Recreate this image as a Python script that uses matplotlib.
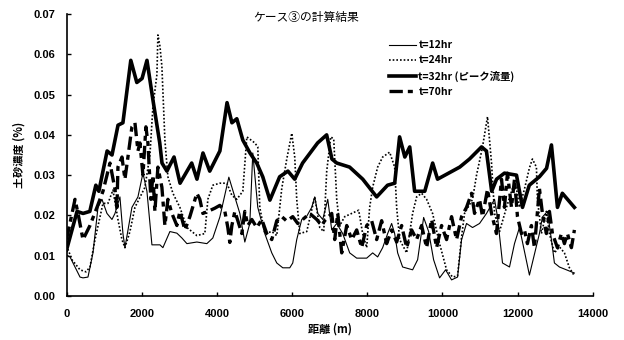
import numpy as np
import matplotlib.pyplot as plt

# データ (距離 m, 土砂濃度 %)
x12 = [0, 93, 359, 438, 571, 704, 837, 943, 1076, 1209, 1289, 1421, 1501, 1554, 1740, 1900, 2033, 2139,
       2219, 2272, 2485, 2564, 2750, 2936, 3069, 3202, 3467, 3733, 3892, 4079, 4318, 4610, 4743, 4876,
       4955, 5088, 5274, 5460, 5593, 5753, 5939, 6018, 6124, 6257, 6390, 6523, 6603, 6683, 6816, 6949,
       7055, 7188, 7347, 7533, 7719, 7985, 8144, 8277, 8410, 8543, 8649, 8729, 8809, 8941, 9207, 9340,
       9500, 9633, 9765, 9924, 10084, 10243, 10402, 10509, 10641, 10801, 10987, 11173, 11386, 11465,
       11598, 11784, 11917, 12049, 12314, 12580, 12660, 12793, 12899, 12979, 13112, 13298, 13511]
y12 = [0.0102, 0.0097, 0.0047, 0.0045, 0.0047, 0.0107, 0.022, 0.024, 0.0205, 0.019, 0.0205, 0.0246, 0.0155,
       0.012, 0.022, 0.0246, 0.0305, 0.026, 0.018, 0.0127, 0.0127, 0.012, 0.016, 0.0156, 0.0144, 0.013,
       0.0134, 0.013, 0.0144, 0.0196, 0.0295, 0.0205, 0.0134, 0.018, 0.0355, 0.022, 0.0155, 0.0107, 0.0082,
       0.007, 0.007, 0.0082, 0.014, 0.019, 0.0198, 0.022, 0.0246, 0.0205, 0.019, 0.024, 0.0164, 0.018,
       0.0155, 0.0107, 0.0094, 0.0094, 0.0107, 0.0097, 0.012, 0.0155, 0.018, 0.0155, 0.0107, 0.0072,
       0.0065, 0.009, 0.0195, 0.016, 0.009, 0.0045, 0.0065, 0.004, 0.0047, 0.014, 0.018, 0.017, 0.018,
       0.0205, 0.024, 0.0196, 0.0082, 0.0072, 0.013, 0.017, 0.0052, 0.0155, 0.0196, 0.021, 0.014, 0.0082,
       0.0072, 0.0065, 0.0057]

x24 = [0, 146, 359, 518, 624, 757, 890, 970, 1103, 1235, 1368, 1475, 1554, 1687, 1820, 1953, 2086, 2219,
       2298, 2405, 2431, 2485, 2537, 2617, 2697, 2830, 3016, 3202, 3467, 3680, 3760, 3892, 4079, 4265,
       4398, 4530, 4690, 4796, 5009, 5088, 5141, 5274, 5460, 5593, 5726, 5859, 5992, 6071, 6124, 6204,
       6390, 6603, 6736, 6842, 6922, 7028, 7108, 7188, 7268, 7401, 7587, 7772, 7878, 7985, 8064, 8144,
       8277, 8410, 8596, 8729, 8782, 8862, 9048, 9207, 9313, 9446, 9579, 9738, 9924, 10110, 10270, 10402,
       10509, 10588, 10801, 10907, 11066, 11199, 11306, 11386, 11518, 11704, 11863, 11969, 12049, 12181,
       12314, 12394, 12500, 12527, 12633, 12766, 12846, 12979, 13112, 13245, 13378, 13511]
y24 = [0.0125, 0.009, 0.0065, 0.006, 0.0072, 0.014, 0.0196, 0.023, 0.023, 0.0263, 0.019, 0.014, 0.012,
       0.016, 0.022, 0.0245, 0.027, 0.035, 0.047, 0.055, 0.0648, 0.062, 0.057, 0.0387, 0.0296, 0.0255,
       0.022, 0.017, 0.015, 0.0155, 0.024, 0.0275, 0.028, 0.028, 0.025, 0.024, 0.026, 0.0395, 0.038,
       0.037, 0.022, 0.0155, 0.016, 0.015, 0.0267, 0.034, 0.0404, 0.0345, 0.024, 0.0155, 0.016, 0.0246,
       0.017, 0.016, 0.031, 0.0395, 0.039, 0.024, 0.0175, 0.0197, 0.0205, 0.0213, 0.0155, 0.012, 0.022,
       0.027, 0.032, 0.0345, 0.0357, 0.032, 0.022, 0.014, 0.0107, 0.0205, 0.0246, 0.0255, 0.024, 0.0205,
       0.013, 0.0065, 0.0047, 0.005, 0.0147, 0.0205, 0.024, 0.030, 0.037, 0.0445, 0.033, 0.0205, 0.016,
       0.022, 0.0267, 0.0267, 0.022, 0.0265, 0.0318, 0.034, 0.032, 0.024, 0.0155, 0.021, 0.0155, 0.0107,
       0.0122, 0.0107, 0.007, 0.005]

x32 = [0, 280, 440, 620, 780, 860, 1080, 1210, 1370, 1500, 1710, 1870, 2010, 2140, 2300, 2480, 2540, 2670,
       2860, 3020, 3330, 3470, 3630, 3810, 4080, 4270, 4400, 4530, 4690, 4880, 5060, 5220, 5410, 5670,
       5890, 6070, 6280, 6520, 6680, 6920, 7060, 7190, 7530, 7880, 8250, 8540, 8730, 8860, 9000, 9130,
       9260, 9530, 9740, 9870, 10460, 10720, 11040, 11170, 11310, 11440, 11650, 11970, 12130, 12310,
       12580, 12770, 12900, 13060, 13190, 13510]
y32 = [0.0114, 0.021, 0.0205, 0.021, 0.0275, 0.026, 0.036, 0.035, 0.0424, 0.043, 0.0585, 0.053, 0.054,
       0.0585, 0.0486, 0.038, 0.033, 0.031, 0.0345, 0.028, 0.033, 0.029, 0.0355, 0.031, 0.036, 0.048,
       0.043, 0.044, 0.0387, 0.0355, 0.033, 0.0296, 0.0238, 0.0296, 0.031, 0.029, 0.033, 0.036, 0.038,
       0.040, 0.034, 0.033, 0.032, 0.029, 0.0246, 0.0275, 0.028, 0.0395, 0.0345, 0.037, 0.026, 0.026,
       0.033, 0.029, 0.032, 0.034, 0.037, 0.036, 0.026, 0.029, 0.0305, 0.030, 0.022, 0.0275, 0.0296,
       0.0317, 0.0375, 0.022, 0.0255, 0.022]

x70 = [0, 226, 306, 438, 624, 810, 970, 1156, 1289, 1342, 1368, 1475, 1554, 1634, 1740, 1820, 1900, 1953,
       2033, 2112, 2165, 2245, 2298, 2351, 2431, 2537, 2617, 2697, 2803, 2936, 3016, 3149, 3281, 3467,
       3547, 3627, 3760, 3946, 4079, 4212, 4291, 4344, 4398, 4478, 4557, 4663, 4743, 4823, 4929, 5062,
       5195, 5327, 5460, 5593, 5726, 5859, 6018, 6151, 6284, 6470, 6656, 6789, 6869, 7055, 7135, 7214,
       7321, 7454, 7587, 7719, 7852, 7985, 8117, 8250, 8383, 8516, 8649, 8782, 8915, 9048, 9181, 9313,
       9446, 9579, 9712, 9845, 9977, 10110, 10243, 10376, 10509, 10641, 10774, 10854, 10987, 11066,
       11199, 11306, 11438, 11571, 11650, 11730, 11837, 11917, 11996, 12102, 12181, 12261, 12367, 12447,
       12580, 12660, 12766, 12846, 12926, 13059, 13165, 13245, 13325, 13431, 13511]
y70 = [0.014, 0.024, 0.0205, 0.014, 0.0175, 0.022, 0.026, 0.033, 0.0265, 0.022, 0.032, 0.0345, 0.029,
       0.0345, 0.042, 0.043, 0.036, 0.038, 0.030, 0.042, 0.038, 0.024, 0.030, 0.021, 0.032, 0.027, 0.0175,
       0.024, 0.0205, 0.0175, 0.021, 0.0164, 0.0197, 0.0255, 0.024, 0.0205, 0.021, 0.0218, 0.0225, 0.021,
       0.017, 0.0133, 0.0175, 0.021, 0.0187, 0.0155, 0.021, 0.0175, 0.019, 0.017, 0.019, 0.0155, 0.014,
       0.0187, 0.0197, 0.0186, 0.0197, 0.018, 0.019, 0.0205, 0.019, 0.0175, 0.0187, 0.0205, 0.014, 0.0205,
       0.0107, 0.0175, 0.014, 0.0164, 0.012, 0.0175, 0.0187, 0.014, 0.0187, 0.013, 0.0164, 0.0134, 0.0175,
       0.012, 0.0164, 0.014, 0.0175, 0.012, 0.019, 0.012, 0.0175, 0.014, 0.0197, 0.014, 0.0197, 0.022,
       0.0255, 0.0205, 0.024, 0.0197, 0.0265, 0.0205, 0.0155, 0.029, 0.022, 0.0305, 0.022, 0.029, 0.0197,
       0.0155, 0.0164, 0.013, 0.0175, 0.012, 0.0267, 0.0205, 0.0155, 0.021, 0.0155, 0.012, 0.0155, 0.013,
       0.0155, 0.012, 0.0164]

labels = ["t=12hr", "t=24hr", "t=32hr (ピーク流量)", "t=70hr"]

jp = ['Noto Sans CJK JP', 'DejaVu Sans']
plt.rcParams['font.family'] = ['Liberation Sans', 'Noto Sans CJK JP']

fig = plt.figure(figsize=(6.24, 3.40), dpi=100)
ax = fig.add_axes([0.1066, 0.1294, 0.8434, 0.8294])

ax.plot(x12, y12, color='black', lw=0.8, label=labels[0])
ax.plot(x24, y24, color='black', lw=1.2, ls=(0, (1, 1.2)), label=labels[1])
ax.plot(x32, y32, color='black', lw=2.6, label=labels[2])
ax.plot(x70, y70, color='black', lw=2.4, ls=(0, (4, 1.5, 1.5, 1.5)), label=labels[3])

ax.set_xlim(0, 14000)
ax.set_ylim(0, 0.07)
ax.set_xticks(np.arange(0, 14001, 2000))
ax.set_yticks(np.arange(0, 0.0701, 0.01))
ax.set_yticklabels([f"{v:.2f}" for v in np.arange(0, 0.0701, 0.01)])
for s in ['top', 'right']:
    ax.spines[s].set_visible(False)
for s in ['left', 'bottom']:
    ax.spines[s].set_linewidth(1.2)
ax.tick_params(direction='in', length=3, width=1.0, labelsize=8)
ax.tick_params(axis='x', pad=9)
ax.tick_params(axis='y', pad=8)
for t in ax.get_xticklabels() + ax.get_yticklabels():
    t.set_fontweight('bold')

ax.set_xlabel("距離 (m)", family=jp, fontsize=8, fontweight='bold', labelpad=3)
ax.set_ylabel("土砂濃度 (%)", family=jp, fontsize=8, fontweight='bold', labelpad=6)

fig.text(306 / 624, 1 - 17 / 340, "ケース③の計算結果", family=jp, fontsize=8.5,
         ha='center', va='center')

leg = ax.legend(loc='upper left', bbox_to_anchor=(384 / 624, 1 - 35 / 340),
                bbox_transform=fig.transFigure, frameon=False, borderpad=0,
                handlelength=2.6, handletextpad=0.2, labelspacing=0.5,
                prop={'family': jp, 'size': 7.5, 'weight': 'bold'})

fig.savefig("out.png", dpi=100)
